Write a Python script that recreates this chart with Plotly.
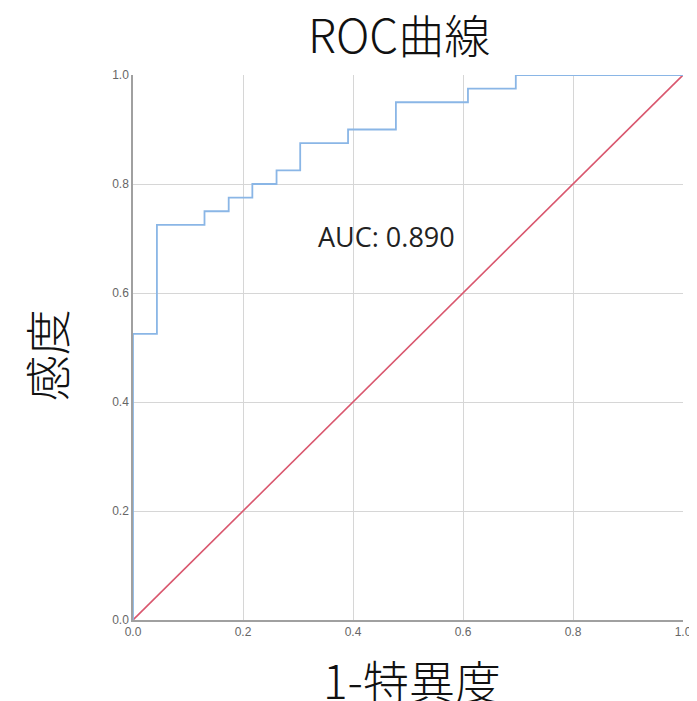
import plotly.graph_objects as go

# ROC step curve (1 - specificity, sensitivity)
fpr = [0.0, 0.0, 0.0435, 0.0435, 0.130, 0.130, 0.174, 0.174, 0.217, 0.217,
       0.261, 0.261, 0.304, 0.304, 0.391, 0.391, 0.478, 0.478, 0.609, 0.609,
       0.696, 0.696, 1.0]
tpr = [0.0, 0.525, 0.525, 0.725, 0.725, 0.75, 0.75, 0.775, 0.775, 0.8,
       0.8, 0.825, 0.825, 0.875, 0.875, 0.9, 0.9, 0.95, 0.95, 0.975,
       0.975, 1.0, 1.0]
ref_x = [0.0, 1.0]
ref_y = [0.0, 1.0]
tick_vals = [0.0, 0.2, 0.4, 0.6, 0.8, 1.0]
tick_text = ["0.0", "0.2", "0.4", "0.6", "0.8", "1.0"]
auc_label = "AUC: 0.890"
title_text = "ROC曲線"
x_title = "1-特異度"
y_title = "感度"

cjk = "Noto Sans CJK JP"
fig = go.Figure()
fig.add_trace(go.Scatter(x=ref_x, y=ref_y, mode="lines",
                         line=dict(color="#d9576e", width=1.6), hoverinfo="skip"))
fig.add_trace(go.Scatter(x=fpr, y=tpr, mode="lines",
                         line=dict(color="#8ab6e6", width=1.8), hoverinfo="skip"))

fig.add_annotation(x=0.46, y=0.703, xref="x", yref="y", text=auc_label,
                   showarrow=False, font=dict(family="Open Sans", size=27, color="#222"))

title_font = dict(family=cjk, size=46, color="#111", weight=300)
fig.add_annotation(x=0.484, y=1.077, xref="paper", yref="paper", text=title_text,
                   showarrow=False, xanchor="center", yanchor="middle", font=title_font)
fig.add_annotation(x=0.507, y=-0.108, xref="paper", yref="paper", text=x_title,
                   showarrow=False, xanchor="center", yanchor="middle", font=title_font)
fig.add_annotation(x=-0.16, y=0.486, xref="paper", yref="paper", text=y_title,
                   showarrow=False, xanchor="center", yanchor="middle", textangle=-90,
                   font=title_font)

axis_common = dict(range=[0, 1], tickvals=tick_vals, ticktext=tick_text,
                   showgrid=True, gridcolor="#d6d6d6", gridwidth=1.2, automargin=False,
                   zeroline=False, showline=True, linecolor="#a0a0a0", linewidth=1.5,
                   ticks="", tickfont=dict(family="Liberation Sans", size=12, color="#666"))

# page body has an 8px margin, so the figure is sized/offset to compensate
fig.update_layout(
    width=689, height=693,
    paper_bgcolor="white", plot_bgcolor="white",
    showlegend=False,
    margin=dict(l=125, r=14, t=67, b=81),
    xaxis=dict(**axis_common),
    yaxis=dict(**axis_common),
)
fig.write_html("out.html")
